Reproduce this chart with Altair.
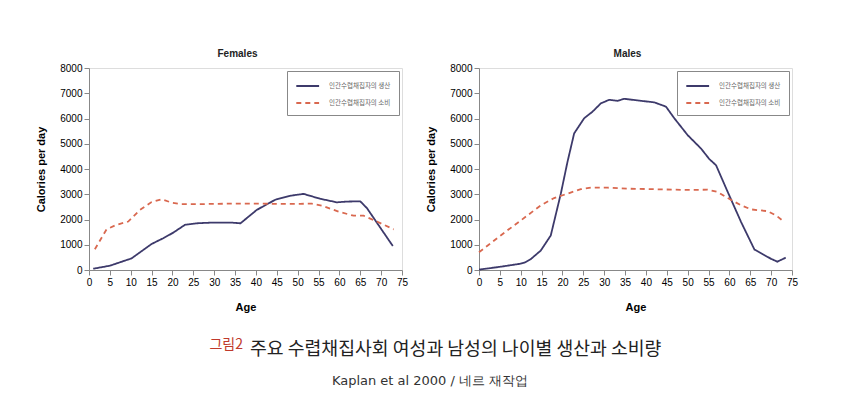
import altair as alt
import pandas as pd

AGE_TICKS = list(range(0, 80, 5))
CAL_TICKS = list(range(0, 9000, 1000))
SERIES = ["인간수렵채집자의 생산", "인간수렵채집자의 소비"]
PANELS = ["Females", "Males"]
X_TITLE = "Age"
Y_TITLE = "Calories per day"
CAPTION_LABEL = ["그림2"]
CAPTION_MAIN = ["주요 수렵채집사회 여성과 남성의 나이별 생산과 소비량"]
CAPTION_SOURCE = ["Kaplan et al 2000 / 네르 재작업"]

# Females
f_prod_age = [1, 5, 10.2, 15, 17.8, 20.2, 23, 25.8, 29.8, 33.8, 36.3, 40.2, 44.6, 48.2, 51.4, 55.4, 59.4, 61.8, 65, 66.6, 72.8]
f_prod_val = [50, 170, 460, 1030, 1260, 1480, 1790, 1850, 1880, 1880, 1850, 2380, 2780, 2940, 3015, 2820, 2680, 2710, 2720, 2450, 950]
f_cons_age = [1.4, 4.2, 6.6, 9.4, 12.2, 15, 17.4, 19.8, 22.2, 26.6, 30.6, 34.6, 40.2, 45, 50.6, 53.4, 55.8, 59.8, 63.4, 65.8, 69, 73]
f_cons_val = [820, 1610, 1790, 1920, 2380, 2690, 2800, 2670, 2610, 2610, 2620, 2630, 2630, 2620, 2620, 2630, 2550, 2310, 2150, 2150, 1920, 1610]

# Males
m_prod_age = [0, 5.2, 10, 11, 12.4, 14.8, 17.2, 19.6, 21.2, 22.8, 25.2, 27.2, 29.2, 31.2, 33.2, 34.8, 38.8, 42, 44.8, 46.8, 50, 53.2, 55.2, 56.8, 59.6, 62.8, 66, 70, 71.5, 73.5]
m_prod_val = [15, 130, 250, 300, 430, 770, 1370, 3020, 4280, 5410, 6010, 6270, 6600, 6740, 6700, 6780, 6700, 6640, 6470, 6010, 5340, 4810, 4390, 4150, 3090, 1900, 810, 440, 330, 490]
m_cons_age = [0, 5.2, 10, 14.8, 18, 20.4, 24.4, 26.8, 30.8, 35.6, 42, 50, 54.8, 57.2, 59.6, 62.8, 65.2, 69.2, 71.2, 73.2]
m_cons_val = [700, 1370, 1960, 2560, 2850, 2980, 3200, 3260, 3260, 3220, 3200, 3170, 3180, 3090, 2850, 2560, 2400, 2330, 2160, 1900]

PROD_COLOR = "#3d3a6b"
CONS_COLOR = "#d9684f"
FONT = "Liberation Sans"


def frame(pa, pv, ca, cv):
    rows = [{"age": a, "cal": v, "series": SERIES[0]} for a, v in zip(pa, pv)]
    rows += [{"age": a, "cal": v, "series": SERIES[1]} for a, v in zip(ca, cv)]
    return pd.DataFrame(rows)


def panel(title, df):
    legend = alt.Legend(
        title=None, orient="top-right", offset=3, strokeColor="#888",
        fillColor="white", padding=8, symbolType="M-1,0H3", symbolSize=130,
        symbolStrokeWidth=1.8, labelFontSize=6.5, labelColor="#666",
        rowPadding=6, labelOffset=20, labelFont="Noto Sans CJK KR",
    )
    return alt.Chart(df).mark_line(strokeWidth=1.8).encode(
        x=alt.X("age:Q", scale=alt.Scale(domain=[0, 75], nice=False),
                axis=alt.Axis(values=AGE_TICKS, title=X_TITLE, grid=False, format="d",
                              labelFlush=False, titlePadding=14)),
        y=alt.Y("cal:Q", scale=alt.Scale(domain=[0, 8000], nice=False),
                axis=alt.Axis(values=CAL_TICKS, title=Y_TITLE, grid=False, format="d",
                              titlePadding=13)),
        color=alt.Color("series:N", scale=alt.Scale(domain=SERIES, range=[PROD_COLOR, CONS_COLOR]), legend=legend),
        strokeDash=alt.StrokeDash("series:N", scale=alt.Scale(domain=SERIES, range=[[1, 0], [5, 4]]), legend=legend),
        order="age:Q",
    ).properties(
        width=313, height=202,
        title=alt.TitleParams(title, fontSize=10, font=FONT, fontWeight="bold", color="#222", dx=-8, offset=4),
    )


females = panel(PANELS[0], frame(f_prod_age, f_prod_val, f_cons_age, f_cons_val))
males = panel(PANELS[1], frame(m_prod_age, m_prod_val, m_cons_age, m_cons_val))

top = alt.hconcat(females, males, spacing=16).resolve_scale(color="independent", strokeDash="independent")

cap_df = pd.DataFrame({"label": CAPTION_LABEL, "main": CAPTION_MAIN, "source": CAPTION_SOURCE})
cap_base = alt.Chart(cap_df)
cap_label = cap_base.mark_text(align="right", baseline="alphabetic", font="Noto Sans CJK KR",
                               fontSize=14, color="#c0392b").encode(
    text="label:N", x=alt.value(154), y=alt.value(36))
cap_main = cap_base.mark_text(align="left", baseline="alphabetic", font="Noto Sans CJK KR",
                              fontSize=18.3, color="#222").encode(
    text="main:N", x=alt.value(161), y=alt.value(42))
cap_src = cap_base.mark_text(align="center", baseline="alphabetic", font="DejaVu Sans",
                             fontSize=13, color="#333").encode(
    text="source:N", x=alt.value(341), y=alt.value(72))
caption = alt.layer(cap_label, cap_main, cap_src).properties(
    width=700, height=78, view=alt.ViewBackground(strokeOpacity=0))

chart = alt.vconcat(top, caption, spacing=0).properties(
    padding={"left": 27, "top": 40, "right": 0, "bottom": 0}
).configure_view(stroke="#888", strokeWidth=1).configure_axis(
    labelFont=FONT, labelFontWeight="bold", labelFontSize=8.5, labelColor="#444",
    titleFont=FONT, titleFontWeight="bold", titleFontSize=10, titleColor="#222",
    domainColor="#555", tickColor="#555", tickSize=4, grid=False, labelPadding=4,
).configure(background="white")

chart.save("out.html", embed_options={"renderer": "svg", "actions": False})
